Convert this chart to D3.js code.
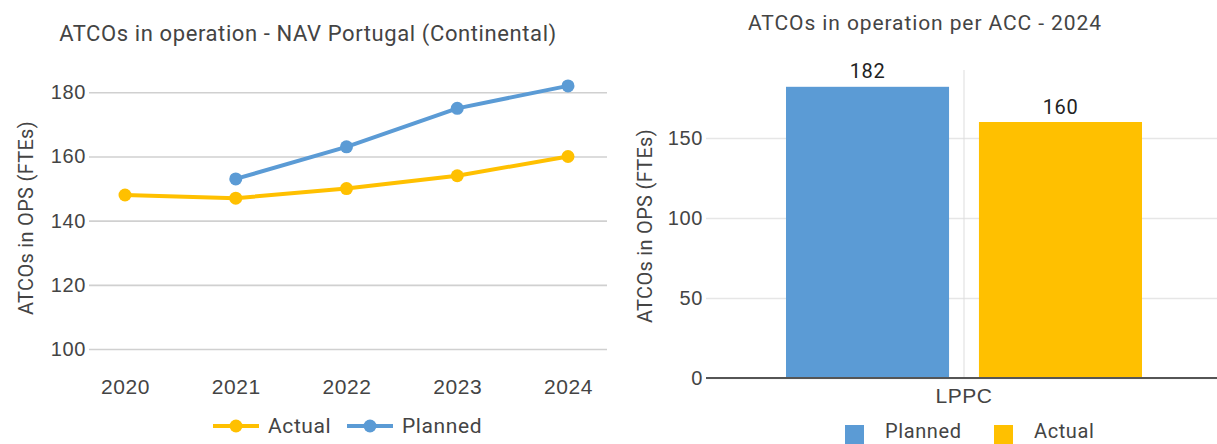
<!DOCTYPE html>
<html>
<head>
<meta charset="utf-8">
<script src="https://cdn.jsdelivr.net/npm/d3@7"></script>
<style>
  html, body { margin: 0; padding: 0; background: #fff; }
  svg { display: block; font-family: Roboto, "Noto Sans", sans-serif; }
  svg text { letter-spacing: 0.6px; }
</style>
</head>
<body>
<svg id="chart" width="1217" height="444"></svg>
<script>
// ---- Data ----
const years = ["2020", "2021", "2022", "2023", "2024"];
const actual = [148, 147, 150, 154, 160];
const planned = [null, 153, 163, 175, 182];
const lineTicks = [100, 120, 140, 160, 180];

const accCategories = ["LPPC"];
const accSeries = ["Planned", "Actual"];
const accValues = [182, 160];
const barTicks = [0, 50, 100, 150];

const BLUE = "#5b9bd5";
const YELLOW = "#ffc000";
const TEXT = "#444";

const svg = d3.select("#chart");

// ---- Left: line chart ----
{
  const g = svg.append("g");
  const x = d3.scalePoint().domain(years).range([125, 568]);
  const y = d3.scaleLinear().domain([100, 180]).range([349, 92.3]);

  g.append("text")
    .attr("x", 308).attr("y", 41)
    .attr("text-anchor", "middle")
    .attr("font-size", 22).attr("fill", TEXT)
    .text("ATCOs in operation - NAV Portugal (Continental)");

  const yAxis = g.append("g").attr("transform", "translate(89,0)")
    .call(d3.axisLeft(y).tickValues(lineTicks).tickSize(-518).tickPadding(3));
  yAxis.select(".domain").remove();
  yAxis.selectAll("line").attr("stroke", "#d0d0d0").attr("stroke-width", 1.6);
  yAxis.selectAll("text").attr("font-size", 20).attr("fill", TEXT);

  const xAxis = g.append("g").attr("transform", "translate(0,379)")
    .call(d3.axisBottom(x).tickSize(0).tickPadding(0));
  xAxis.select(".domain").remove();
  xAxis.selectAll("text").attr("font-size", 21).attr("fill", TEXT).attr("dy", "0.71em");

  g.append("text")
    .attr("transform", "translate(33,218) rotate(-90)")
    .attr("text-anchor", "middle")
    .attr("font-size", 20).attr("fill", TEXT)
    .style("letter-spacing", "0.3px")
    .text("ATCOs in OPS (FTEs)");

  const line = d3.line()
    .defined(d => d.v != null)
    .x(d => x(d.k)).y(d => y(d.v));

  const series = [
    { name: "Actual", color: YELLOW, vals: actual },
    { name: "Planned", color: BLUE, vals: planned }
  ];
  series.forEach(s => {
    const pts = years.map((k, i) => ({ k, v: s.vals[i] }));
    g.append("path").datum(pts)
      .attr("d", line).attr("fill", "none")
      .attr("stroke", s.color).attr("stroke-width", 4)
      .attr("stroke-linejoin", "round");
    g.selectAll(null).data(pts.filter(d => d.v != null)).enter()
      .append("circle")
      .attr("cx", d => x(d.k)).attr("cy", d => y(d.v))
      .attr("r", 6.5).attr("fill", s.color);
  });

  // legend
  const legX = [213, 347];
  series.forEach((s, i) => {
    const lx = legX[i];
    g.append("line").attr("x1", lx).attr("x2", lx + 46)
      .attr("y1", 426).attr("y2", 426)
      .attr("stroke", s.color).attr("stroke-width", 4);
    g.append("circle").attr("cx", lx + 23).attr("cy", 426).attr("r", 6.5).attr("fill", s.color);
    g.append("text").attr("x", lx + 55).attr("y", 426).attr("dy", "0.35em")
      .attr("font-size", 21).attr("fill", TEXT).text(s.name);
  });
}

// ---- Right: bar chart ----
{
  const g = svg.append("g");
  const x0 = d3.scaleBand().domain(accCategories).range([706, 1222]).paddingOuter(0.2247).paddingInner(0);
  const x1 = d3.scaleBand().domain(accSeries).range([0, x0.bandwidth()]).paddingInner(0.155);
  const y = d3.scaleLinear().domain([0, 150]).range([378, 138]);
  const color = d3.scaleOrdinal().domain(accSeries).range([BLUE, YELLOW]);

  g.append("text")
    .attr("x", 925).attr("y", 30)
    .attr("text-anchor", "middle")
    .attr("font-size", 21).attr("fill", TEXT)
    .style("letter-spacing", "0.9px")
    .text("ATCOs in operation per ACC - 2024");

  const yAxis = g.append("g").attr("transform", "translate(706,0)")
    .call(d3.axisLeft(y).tickValues(barTicks).tickSize(-511).tickPadding(3));
  yAxis.select(".domain").remove();
  yAxis.selectAll("line").attr("stroke", "#e6e6e6").attr("stroke-width", 1.5);
  yAxis.selectAll("text").attr("font-size", 20).attr("fill", TEXT);

  // category divider
  accCategories.forEach(c => {
    const cx = x0(c) + x0.bandwidth() / 2;
    g.append("line").attr("x1", cx).attr("x2", cx).attr("y1", 70).attr("y2", 378)
      .attr("stroke", "#dddddd").attr("stroke-width", 1);
  });

  g.append("text")
    .attr("transform", "translate(652,226) rotate(-90)")
    .attr("text-anchor", "middle")
    .attr("font-size", 20).attr("fill", TEXT)
    .style("letter-spacing", "0.3px")
    .text("ATCOs in OPS (FTEs)");

  const bars = accSeries.map((s, i) => ({ cat: accCategories[0], s, v: accValues[i] }));
  g.selectAll("rect.bar").data(bars).enter().append("rect")
    .attr("class", "bar")
    .attr("x", d => x0(d.cat) + x1(d.s))
    .attr("width", x1.bandwidth())
    .attr("y", d => y(d.v))
    .attr("height", d => y(0) - y(d.v))
    .attr("fill", d => color(d.s));

  g.selectAll("text.val").data(bars).enter().append("text")
    .attr("class", "val")
    .attr("x", d => x0(d.cat) + x1(d.s) + x1.bandwidth() / 2)
    .attr("y", d => y(d.v) - 8.5)
    .attr("text-anchor", "middle")
    .attr("font-size", 20).attr("fill", "#222")
    .text(d => d.v);

  // baseline
  g.append("line").attr("x1", 706).attr("x2", 1217).attr("y1", y(0)).attr("y2", y(0))
    .attr("stroke", "#555").attr("stroke-width", 2);

  const xAxis = g.append("g").attr("transform", "translate(0,388)")
    .call(d3.axisBottom(x0).tickSize(0).tickPadding(0));
  xAxis.select(".domain").remove();
  xAxis.selectAll("text").attr("font-size", 21).attr("fill", TEXT).attr("dy", "0.71em");

  // legend
  const legX = [845, 994];
  accSeries.forEach((s, i) => {
    g.append("rect").attr("x", legX[i]).attr("y", 425).attr("width", 19).attr("height", 19)
      .attr("fill", color(s));
    g.append("text").attr("x", legX[i] + 40).attr("y", 438)
      .attr("font-size", 20).attr("fill", TEXT).text(s);
  });
}
</script>
</body>
</html>
